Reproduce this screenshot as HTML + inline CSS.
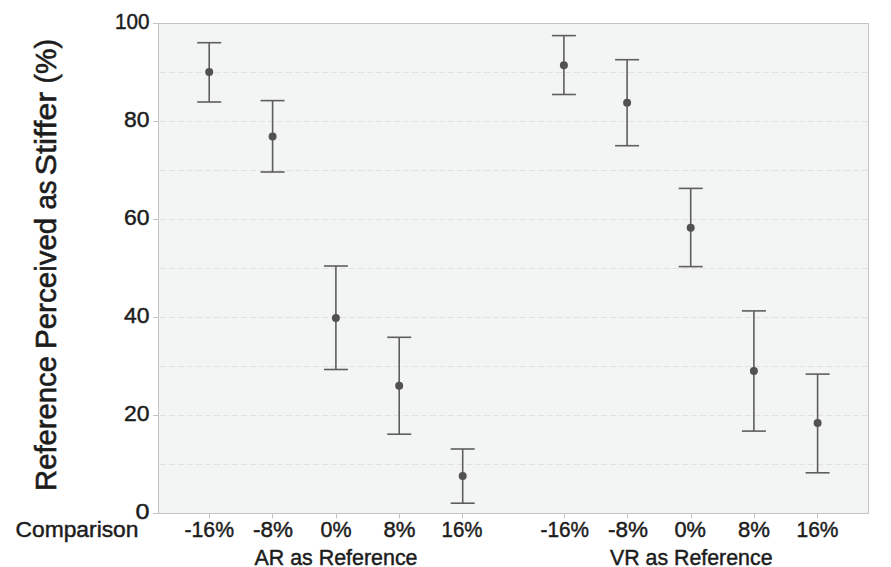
<!DOCTYPE html>
<html><head><meta charset="utf-8"><style>
html,body{margin:0;padding:0;background:#fff;}
svg{display:block;}
text{font-family:"Liberation Sans",sans-serif;fill:#1c1c1c;stroke:#1c1c1c;stroke-width:0.45px;}
.yl{font-size:22.5px;}
.xl{font-size:22px;}
.title{font-size:29.5px;stroke-width:0.6px;}
</style></head><body>
<svg width="891" height="567" viewBox="0 0 891 567">
<rect x="158.5" y="23.5" width="710.0" height="490.0" fill="#f3f4f4" stroke="#c4c4c4" stroke-width="1"/>
<line x1="160.0" y1="464.5" x2="868.0" y2="464.5" stroke="#e2e2e2" stroke-width="1" stroke-dasharray="6 3"/>
<line x1="160.0" y1="415.5" x2="868.0" y2="415.5" stroke="#e2e2e2" stroke-width="1" stroke-dasharray="6 3"/>
<line x1="160.0" y1="366.5" x2="868.0" y2="366.5" stroke="#e2e2e2" stroke-width="1" stroke-dasharray="6 3"/>
<line x1="160.0" y1="317.5" x2="868.0" y2="317.5" stroke="#e2e2e2" stroke-width="1" stroke-dasharray="6 3"/>
<line x1="160.0" y1="268.5" x2="868.0" y2="268.5" stroke="#e2e2e2" stroke-width="1" stroke-dasharray="6 3"/>
<line x1="160.0" y1="219.5" x2="868.0" y2="219.5" stroke="#e2e2e2" stroke-width="1" stroke-dasharray="6 3"/>
<line x1="160.0" y1="170.5" x2="868.0" y2="170.5" stroke="#e2e2e2" stroke-width="1" stroke-dasharray="6 3"/>
<line x1="160.0" y1="121.5" x2="868.0" y2="121.5" stroke="#e2e2e2" stroke-width="1" stroke-dasharray="6 3"/>
<line x1="160.0" y1="72.5" x2="868.0" y2="72.5" stroke="#e2e2e2" stroke-width="1" stroke-dasharray="6 3"/>
<line x1="153" y1="513.5" x2="158.5" y2="513.5" stroke="#c4c4c4" stroke-width="1"/>
<text x="135.5" y="519.0" textLength="14" lengthAdjust="spacingAndGlyphs" class="yl">0</text>
<line x1="153" y1="415.5" x2="158.5" y2="415.5" stroke="#c4c4c4" stroke-width="1"/>
<text x="124" y="421.0" textLength="25.5" lengthAdjust="spacingAndGlyphs" class="yl">20</text>
<line x1="153" y1="317.5" x2="158.5" y2="317.5" stroke="#c4c4c4" stroke-width="1"/>
<text x="124" y="323.0" textLength="25.5" lengthAdjust="spacingAndGlyphs" class="yl">40</text>
<line x1="153" y1="219.5" x2="158.5" y2="219.5" stroke="#c4c4c4" stroke-width="1"/>
<text x="124" y="225.0" textLength="25.5" lengthAdjust="spacingAndGlyphs" class="yl">60</text>
<line x1="153" y1="121.5" x2="158.5" y2="121.5" stroke="#c4c4c4" stroke-width="1"/>
<text x="124" y="127.0" textLength="25.5" lengthAdjust="spacingAndGlyphs" class="yl">80</text>
<line x1="153" y1="23.5" x2="158.5" y2="23.5" stroke="#c4c4c4" stroke-width="1"/>
<text x="115" y="29.0" textLength="34.5" lengthAdjust="spacingAndGlyphs" class="yl">100</text>
<line x1="209.5" y1="513.5" x2="209.5" y2="518.5" stroke="#c4c4c4" stroke-width="1"/>
<line x1="272.5" y1="513.5" x2="272.5" y2="518.5" stroke="#c4c4c4" stroke-width="1"/>
<line x1="336.5" y1="513.5" x2="336.5" y2="518.5" stroke="#c4c4c4" stroke-width="1"/>
<line x1="399.5" y1="513.5" x2="399.5" y2="518.5" stroke="#c4c4c4" stroke-width="1"/>
<line x1="462.5" y1="513.5" x2="462.5" y2="518.5" stroke="#c4c4c4" stroke-width="1"/>
<line x1="564.5" y1="513.5" x2="564.5" y2="518.5" stroke="#c4c4c4" stroke-width="1"/>
<line x1="627.5" y1="513.5" x2="627.5" y2="518.5" stroke="#c4c4c4" stroke-width="1"/>
<line x1="691.5" y1="513.5" x2="691.5" y2="518.5" stroke="#c4c4c4" stroke-width="1"/>
<line x1="754.5" y1="513.5" x2="754.5" y2="518.5" stroke="#c4c4c4" stroke-width="1"/>
<line x1="817.5" y1="513.5" x2="817.5" y2="518.5" stroke="#c4c4c4" stroke-width="1"/>
<line x1="209.2" y1="42.7" x2="209.2" y2="102.0" stroke="#5e5e5e" stroke-width="1.6"/>
<line x1="197.2" y1="42.7" x2="221.2" y2="42.7" stroke="#5e5e5e" stroke-width="1.6"/>
<line x1="197.2" y1="102.0" x2="221.2" y2="102.0" stroke="#5e5e5e" stroke-width="1.6"/>
<circle cx="209.2" cy="72.1" r="4" fill="#525252"/>
<line x1="272.6" y1="100.6" x2="272.6" y2="172.0" stroke="#5e5e5e" stroke-width="1.6"/>
<line x1="260.6" y1="100.6" x2="284.6" y2="100.6" stroke="#5e5e5e" stroke-width="1.6"/>
<line x1="260.6" y1="172.0" x2="284.6" y2="172.0" stroke="#5e5e5e" stroke-width="1.6"/>
<circle cx="272.6" cy="136.4" r="4" fill="#525252"/>
<line x1="335.9" y1="266.0" x2="335.9" y2="369.5" stroke="#5e5e5e" stroke-width="1.6"/>
<line x1="323.9" y1="266.0" x2="347.9" y2="266.0" stroke="#5e5e5e" stroke-width="1.6"/>
<line x1="323.9" y1="369.5" x2="347.9" y2="369.5" stroke="#5e5e5e" stroke-width="1.6"/>
<circle cx="335.9" cy="318.0" r="4" fill="#525252"/>
<line x1="399.2" y1="337.3" x2="399.2" y2="434.2" stroke="#5e5e5e" stroke-width="1.6"/>
<line x1="387.2" y1="337.3" x2="411.2" y2="337.3" stroke="#5e5e5e" stroke-width="1.6"/>
<line x1="387.2" y1="434.2" x2="411.2" y2="434.2" stroke="#5e5e5e" stroke-width="1.6"/>
<circle cx="399.2" cy="385.8" r="4" fill="#525252"/>
<line x1="462.7" y1="449.0" x2="462.7" y2="503.2" stroke="#5e5e5e" stroke-width="1.6"/>
<line x1="450.7" y1="449.0" x2="474.7" y2="449.0" stroke="#5e5e5e" stroke-width="1.6"/>
<line x1="450.7" y1="503.2" x2="474.7" y2="503.2" stroke="#5e5e5e" stroke-width="1.6"/>
<circle cx="462.7" cy="476.1" r="4" fill="#525252"/>
<line x1="563.9" y1="35.6" x2="563.9" y2="94.5" stroke="#5e5e5e" stroke-width="1.6"/>
<line x1="551.9" y1="35.6" x2="575.9" y2="35.6" stroke="#5e5e5e" stroke-width="1.6"/>
<line x1="551.9" y1="94.5" x2="575.9" y2="94.5" stroke="#5e5e5e" stroke-width="1.6"/>
<circle cx="563.9" cy="65.2" r="4" fill="#525252"/>
<line x1="627.1" y1="59.7" x2="627.1" y2="145.7" stroke="#5e5e5e" stroke-width="1.6"/>
<line x1="615.1" y1="59.7" x2="639.1" y2="59.7" stroke="#5e5e5e" stroke-width="1.6"/>
<line x1="615.1" y1="145.7" x2="639.1" y2="145.7" stroke="#5e5e5e" stroke-width="1.6"/>
<circle cx="627.1" cy="102.8" r="4" fill="#525252"/>
<line x1="690.7" y1="188.4" x2="690.7" y2="266.6" stroke="#5e5e5e" stroke-width="1.6"/>
<line x1="678.7" y1="188.4" x2="702.7" y2="188.4" stroke="#5e5e5e" stroke-width="1.6"/>
<line x1="678.7" y1="266.6" x2="702.7" y2="266.6" stroke="#5e5e5e" stroke-width="1.6"/>
<circle cx="690.7" cy="227.8" r="4" fill="#525252"/>
<line x1="753.9" y1="310.9" x2="753.9" y2="431.1" stroke="#5e5e5e" stroke-width="1.6"/>
<line x1="741.9" y1="310.9" x2="765.9" y2="310.9" stroke="#5e5e5e" stroke-width="1.6"/>
<line x1="741.9" y1="431.1" x2="765.9" y2="431.1" stroke="#5e5e5e" stroke-width="1.6"/>
<circle cx="753.9" cy="371.1" r="4" fill="#525252"/>
<line x1="817.6" y1="374.1" x2="817.6" y2="472.8" stroke="#5e5e5e" stroke-width="1.6"/>
<line x1="805.6" y1="374.1" x2="829.6" y2="374.1" stroke="#5e5e5e" stroke-width="1.6"/>
<line x1="805.6" y1="472.8" x2="829.6" y2="472.8" stroke="#5e5e5e" stroke-width="1.6"/>
<circle cx="817.6" cy="423.1" r="4" fill="#525252"/>
<text x="15.5" y="537" class="xl" textLength="123.0" lengthAdjust="spacingAndGlyphs">Comparison</text>
<text x="184.5" y="537" class="xl" textLength="49.5" lengthAdjust="spacingAndGlyphs">-16%</text>
<text x="253.0" y="537" class="xl" textLength="40.0" lengthAdjust="spacingAndGlyphs">-8%</text>
<text x="320.5" y="537" class="xl" textLength="31.0" lengthAdjust="spacingAndGlyphs">0%</text>
<text x="383.5" y="537" class="xl" textLength="32.0" lengthAdjust="spacingAndGlyphs">8%</text>
<text x="441.5" y="537" class="xl" textLength="41.0" lengthAdjust="spacingAndGlyphs">16%</text>
<text x="540.5" y="537" class="xl" textLength="48.5" lengthAdjust="spacingAndGlyphs">-16%</text>
<text x="608.0" y="537" class="xl" textLength="40.0" lengthAdjust="spacingAndGlyphs">-8%</text>
<text x="674.5" y="537" class="xl" textLength="31.5" lengthAdjust="spacingAndGlyphs">0%</text>
<text x="738.0" y="537" class="xl" textLength="32.0" lengthAdjust="spacingAndGlyphs">8%</text>
<text x="796.5" y="537" class="xl" textLength="42.0" lengthAdjust="spacingAndGlyphs">16%</text>
<text x="254.5" y="565" class="xl" textLength="163.0" lengthAdjust="spacingAndGlyphs">AR as Reference</text>
<text x="610.0" y="565" class="xl" textLength="162.5" lengthAdjust="spacingAndGlyphs">VR as Reference</text>
<text transform="translate(56,491) rotate(-90)" class="title" textLength="135" lengthAdjust="spacingAndGlyphs">Reference</text>
<text transform="translate(56,349) rotate(-90)" class="title" textLength="131.3" lengthAdjust="spacingAndGlyphs">Perceived</text>
<text transform="translate(56,209.5) rotate(-90)" class="title" textLength="29.2" lengthAdjust="spacingAndGlyphs">as</text>
<text transform="translate(56,175.5) rotate(-90)" class="title" textLength="83.6" lengthAdjust="spacingAndGlyphs">Stiffer</text>
<text transform="translate(56,83.5) rotate(-90)" class="title" textLength="44.5" lengthAdjust="spacingAndGlyphs">(%)</text>
</svg>
</body></html>
